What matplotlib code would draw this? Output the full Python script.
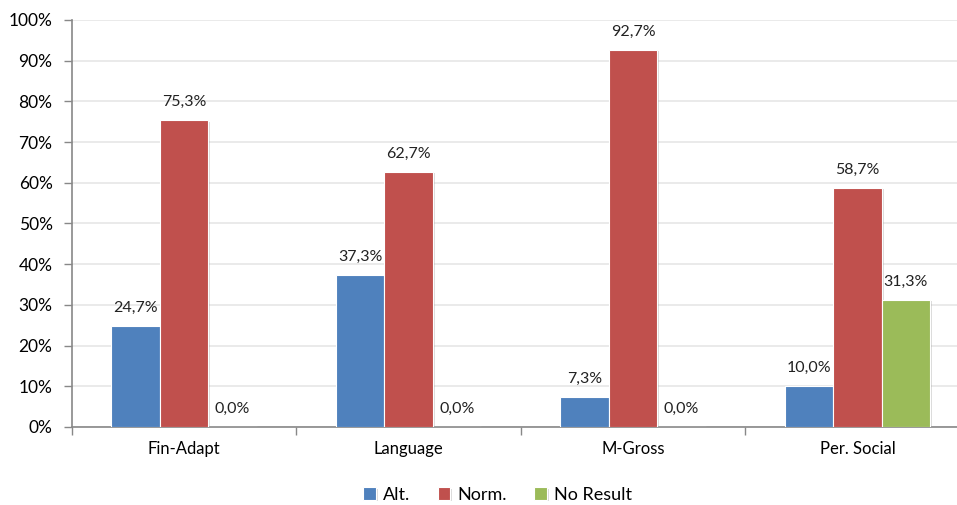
#Imports
import numpy as np
import matplotlib
matplotlib.use('Agg')
import matplotlib.pyplot as plt
import matplotlib.patheffects as pe
from matplotlib.ticker import FuncFormatter

#Data
categories=['Fin-Adapt','Language','M-Gross','Per. Social']
alt=[24.7,37.3,7.3,10.0]
norm=[75.3,62.7,92.7,58.7]
no_result=[0.0,0.0,0.0,31.3]
series_names=['Alt.','Norm.','No Result']
colors=['#4F81BD','#C0504D','#9BBB59']

plt.rcParams['font.family']=['Lato','DejaVu Sans']

fig=plt.figure(figsize=(9.57,5.05),dpi=100)
ax=fig.add_axes([0.0752,0.1545,0.938,0.806])

x=np.arange(len(categories))
w=0.216
shadow=[pe.SimplePatchShadow(offset=(1.5,-1),shadow_rgbFace='#999999',alpha=0.35),pe.Normal()]

for k,(vals,name,c) in enumerate(zip([alt,norm,no_result],series_names,colors)):
  pos=x+(k-1)*w
  bars=ax.bar(pos,vals,w,color=c,edgecolor='white',linewidth=0.8,label=name,zorder=3)
  for b in bars:
    b.set_path_effects(shadow)
  for p,v in zip(pos,vals):
    ax.annotate(('%.1f%%'%v).replace('.',','),(p,v),xytext=(0,8),textcoords='offset points',
                ha='center',va='bottom',fontsize=11.5,color='#222222',zorder=4)

ax.set_xlim(-0.5,len(categories)-0.5)
ax.set_ylim(0,100)
ax.set_yticks(np.arange(0,101,10))
ax.yaxis.set_major_formatter(FuncFormatter(lambda v,p:'%d%%'%v))
ax.set_xticks(x)
ax.set_xticklabels(categories)
ax.set_xticks(np.arange(-0.5,len(categories),1),minor=True)
ax.tick_params(axis='x',which='major',length=0,pad=10,labelsize=12)
ax.tick_params(axis='x',which='minor',length=6,color='#888888',width=1)
ax.tick_params(axis='y',length=6,color='#888888',width=1,labelsize=12.5,pad=8)

ax.grid(axis='y',color='#E6E6E6',linewidth=1.2,zorder=0)
for s in ['top','right']:
  ax.spines[s].set_visible(False)
for s in ['left','bottom']:
  ax.spines[s].set_color('#888888')
  ax.spines[s].set_linewidth(1.2)

fig.legend(loc='center',bbox_to_anchor=(0.52,0.02),ncol=3,frameon=False,fontsize=13,
           handlelength=0.7,handleheight=0.7,handletextpad=0.4,columnspacing=1.5)

plt.savefig('out.png',dpi=100)
